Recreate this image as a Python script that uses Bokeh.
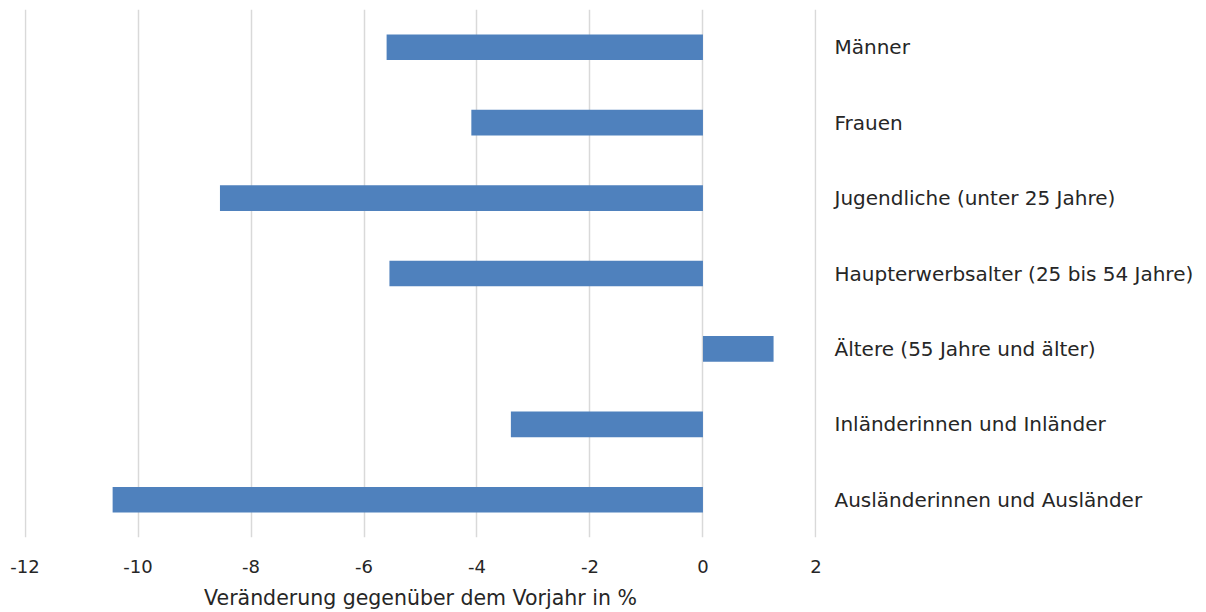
from bokeh.plotting import figure
from bokeh.models import Range1d, FixedTicker, ColumnDataSource
from bokeh.embed import file_html
from bokeh.resources import INLINE

categories = [
    "Männer",
    "Frauen",
    "Jugendliche (unter 25 Jahre)",
    "Haupterwerbsalter (25 bis 54 Jahre)",
    "Ältere (55 Jahre und älter)",
    "Inländerinnen und Inländer",
    "Ausländerinnen und Ausländer",
]
values = [-5.6, -4.1, -8.55, -5.55, 1.25, -3.4, -10.45]
x_ticks = [-12, -10, -8, -6, -4, -2, 0, 2]
x_label = "Veränderung gegenüber dem Vorjahr in %"

n = len(categories)
ypos = [n - 1 - i for i in range(n)]
src = ColumnDataSource(dict(y=ypos, v=values, zero=[0] * n))

FONT = "DejaVu Sans"
TXT = "#262626"

p = figure(width=1206, height=612, output_backend="svg", toolbar_location=None,
           x_range=Range1d(-12.01, 2.01), y_range=Range1d(-0.5, n - 0.5),
           y_axis_location="right",
           min_border_left=24, min_border_right=390, min_border_top=9, min_border_bottom=74)

p.hbar(y="y", left="zero", right="v", height=0.34, source=src,
       fill_color="#4F81BD", line_color=None)

p.outline_line_color = None
p.ygrid.grid_line_color = None
p.xgrid.grid_line_color = "#d9d9d9"
p.xgrid.grid_line_width = 1.5
p.xaxis.ticker = FixedTicker(ticks=x_ticks)
p.xaxis.major_label_overrides = {t: str(t) for t in x_ticks}
p.xaxis.axis_line_color = None
p.xaxis.major_tick_line_color = None
p.xaxis.minor_tick_line_color = None
p.xaxis.major_label_text_font = FONT
p.xaxis.major_label_text_font_size = "18px"
p.xaxis.major_label_text_color = TXT
p.xaxis.major_label_standoff = 16
p.xaxis.axis_label = x_label
p.xaxis.axis_label_text_font = FONT
p.xaxis.axis_label_text_font_size = "20.5px"
p.xaxis.axis_label_text_font_style = "normal"
p.xaxis.axis_label_text_color = TXT
p.xaxis.axis_label_standoff = 10

p.yaxis.ticker = FixedTicker(ticks=ypos)
p.yaxis.major_label_overrides = {y: c for y, c in zip(ypos, categories)}
p.yaxis.axis_line_color = None
p.yaxis.major_tick_line_color = None
p.yaxis.minor_tick_line_color = None
p.yaxis.major_label_text_font = FONT
p.yaxis.major_label_text_font_size = "20px"
p.yaxis.major_label_text_color = TXT
p.yaxis.major_label_standoff = 12
p.yaxis.major_label_text_align = "left"

open("out.html", "w").write(file_html(p, INLINE))
